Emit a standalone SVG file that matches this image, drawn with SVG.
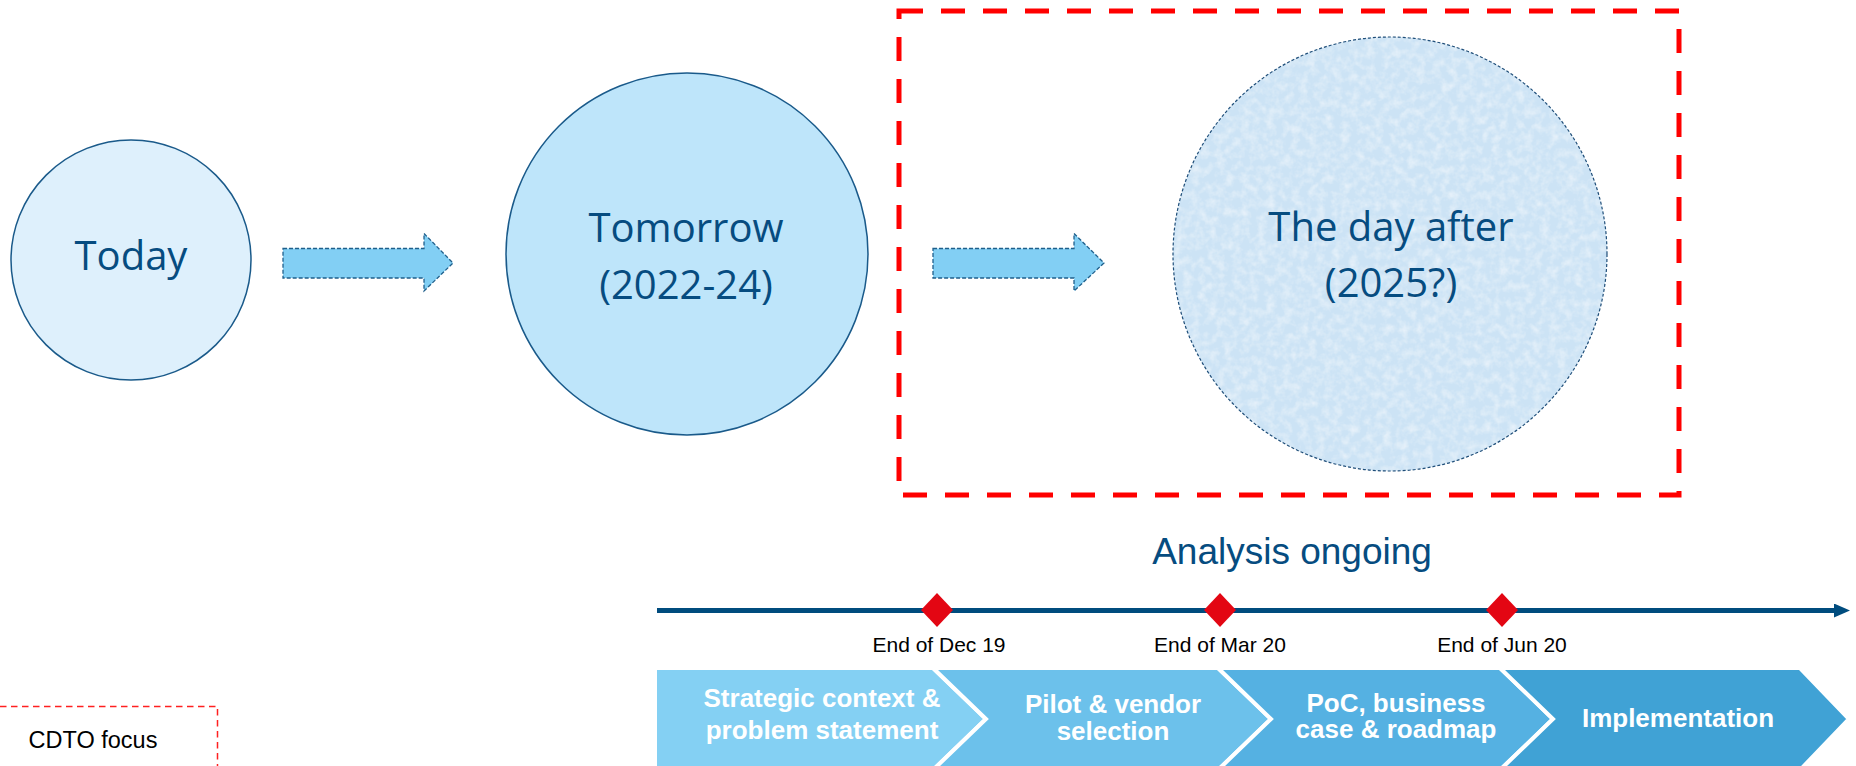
<svg xmlns="http://www.w3.org/2000/svg" width="1856" height="766" viewBox="0 0 1856 766">
  <defs>
    <style>
      .big { font-family: "Open Sans", "Noto Sans", sans-serif; font-size: 40px; fill: #064C80; text-anchor: middle; }
      .node { stroke: #1A5A8A; stroke-width: 1.5; }
      .blk { fill: #82CFF4; stroke: #1F5F8B; stroke-width: 1.3; stroke-dasharray: 4 2; }
      .date { font-family: "Liberation Sans", Arial, sans-serif; font-size: 21px; fill: #000; text-anchor: middle; }
      .chev { stroke: #FFFFFF; stroke-width: 4; stroke-linejoin: miter; }
      .ctext { font-family: "Liberation Sans", Arial, sans-serif; font-size: 26px; font-weight: bold; fill: #FFFFFF; text-anchor: middle; }
      .ms { fill: #E30613; }
    </style>
    <filter id="tex" x="0" y="0" width="100%" height="100%">
      <feTurbulence type="fractalNoise" baseFrequency="0.12" numOctaves="3" seed="4" result="n"/>
      <feColorMatrix in="n" type="matrix" values="0 0 0 0 1  0 0 0 0 1  0 0 0 0 1  0 0 0 0.9 -0.35" result="w"/>
      <feComposite in="w" in2="SourceGraphic" operator="in" result="wc"/>
      <feMerge><feMergeNode in="SourceGraphic"/><feMergeNode in="wc"/></feMerge>
    </filter>
    <marker id="tl-head" viewBox="0 0 16 14" refX="2" refY="7" markerWidth="16" markerHeight="14" markerUnits="userSpaceOnUse" orient="auto">
      <path d="M0,0 L16,7 L0,14 Z" fill="#004C7E"/>
    </marker>
  </defs>

  <rect width="1856" height="766" fill="#FFFFFF"/>

  <!-- CDTO focus scope box -->
  <g id="focus-box">
    <rect x="899" y="11" width="780" height="484" fill="none" stroke="#FF0000" stroke-width="5" stroke-dasharray="24 18"/>
  </g>

  <g id="today">
    <circle class="node" cx="131" cy="260" r="120" fill="#DEF0FC"/>
    <text class="big" x="131" y="270">Today</text>
  </g>

  <g id="tomorrow">
    <circle class="node" cx="687" cy="254" r="181" fill="#BEE5FA"/>
    <text class="big" x="686" y="242">Tomorrow</text>
    <text class="big" x="686" y="299">(2022-24)</text>
  </g>

  <g id="day-after">
    <circle cx="1390" cy="254" r="217" fill="#CCE3F5" filter="url(#tex)"/>
    <circle cx="1390" cy="254" r="217" fill="none" stroke="#1F4E79" stroke-width="1.2" stroke-dasharray="3 2"/>
    <text class="big" x="1391" y="241">The day after</text>
    <text class="big" x="1391" y="297">(2025?)</text>
  </g>

  <g id="connectors">
    <path class="blk" d="M283,248.5 L424,248.5 L424,233.5 L453,263 L424,291 L424,278 L283,278 Z"/>
    <path class="blk" d="M933,248.5 L1074,248.5 L1074,233.5 L1104,263 L1074,291 L1074,278 L933,278 Z"/>
  </g>

  <g id="analysis-label">
    <text x="1292" y="564" font-family="Liberation Sans, Arial, sans-serif" font-size="37" fill="#064C80" text-anchor="middle">Analysis ongoing</text>
  </g>

  <g id="timeline">
    <line x1="657" y1="610.5" x2="1836" y2="610.5" stroke="#004C7E" stroke-width="5" marker-end="url(#tl-head)"/>
    <polygon class="ms" points="937,593 953,610 937,627 921,610"/>
    <polygon class="ms" points="1220,593 1236,610 1220,627 1204,610"/>
    <polygon class="ms" points="1502,593 1518,610 1502,627 1486,610"/>
    <text class="date" x="939" y="652">End of Dec 19</text>
    <text class="date" x="1220" y="652">End of Mar 20</text>
    <text class="date" x="1502" y="652">End of Jun 20</text>
  </g>

  <g id="phase-1">
    <polygon class="chev" fill="#84D0F3" points="655,668 933,668 986,719 933,770 655,770"/>
    <text class="ctext" x="822" y="707">Strategic context &amp;</text>
    <text class="ctext" x="822" y="739">problem statement</text>
  </g>
  <g id="phase-2">
    <polygon class="chev" fill="#6CC1EB" points="933,668 1218,668 1271,719 1218,770 933,770 986,719"/>
    <text class="ctext" x="1113" y="713">Pilot &amp; vendor</text>
    <text class="ctext" x="1113" y="740">selection</text>
  </g>
  <g id="phase-3">
    <polygon class="chev" fill="#55B1E2" points="1218,668 1500,668 1553,719 1500,770 1218,770 1271,719"/>
    <text class="ctext" x="1396" y="712">PoC, business</text>
    <text class="ctext" x="1396" y="738">case &amp; roadmap</text>
  </g>
  <g id="phase-4">
    <polygon class="chev" fill="#40A2D5" points="1500,668 1800,668 1849,719 1800,770 1500,770 1553,719"/>
    <text class="ctext" x="1678" y="727">Implementation</text>
  </g>

  <g id="cdto-legend">
    <polyline points="0,706.5 217.5,706.5 217.5,770" fill="none" stroke="#FF2020" stroke-width="1.5" stroke-dasharray="6.5 4.5"/>
    <text x="93" y="748" font-family="Liberation Sans, Arial, sans-serif" font-size="23.5" fill="#000" text-anchor="middle">CDTO focus</text>
  </g>
</svg>
